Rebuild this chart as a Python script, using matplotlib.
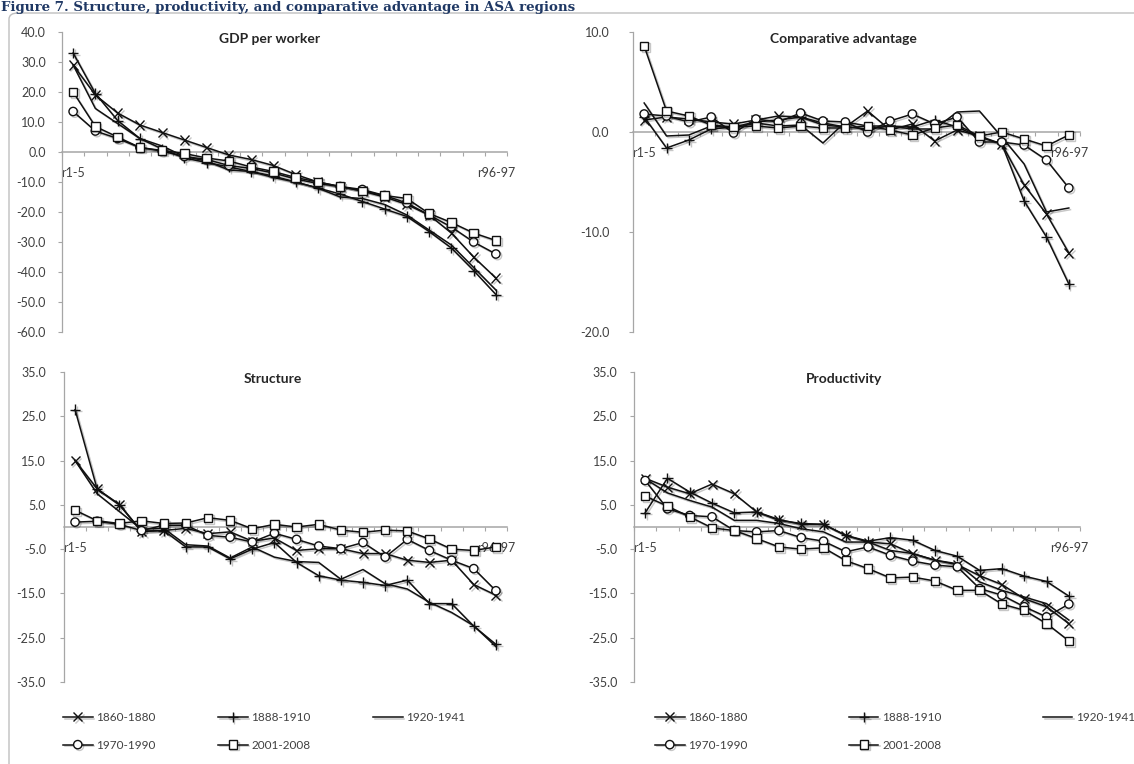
import matplotlib
matplotlib.use('Agg')
import numpy as np
import matplotlib.pyplot as plt
import matplotlib.patheffects as pe
from matplotlib.patches import FancyBboxPatch
from matplotlib.ticker import FixedLocator, NullFormatter

W, H = 1134, 764
plt.rcParams['font.family'] = ['Lato', 'DejaVu Sans']

# ---------------- data ----------------
x_labels = ['r1-5'] + [''] * 18 + ['r96-97']
periods = ['1860-1880', '1888-1910', '1920-1941', '1970-1990', '2001-2008']

gdp_1860 = [29.0, 19.0, 13.0, 9.0, 6.5, 4.0, 1.5, -1.0, -2.5, -4.5, -7.5, -10.0, -11.5, -13.0, -15.0, -17.5, -21.0, -27.0, -35.0, -42.0]
gdp_1888 = [33.0, 19.5, 10.5, 4.5, 1.0, -2.0, -3.5, -5.0, -6.5, -8.0, -10.0, -12.0, -14.0, -16.5, -19.0, -21.5, -26.5, -32.0, -39.5, -47.5]
gdp_1920 = [29.0, 14.5, 9.5, 4.5, 2.0, -1.5, -3.0, -6.0, -6.5, -8.5, -10.0, -12.0, -15.0, -15.5, -17.5, -21.0, -26.0, -31.0, -38.5, -46.0]
gdp_1970 = [13.5, 7.0, 4.5, 1.5, 0.3, -1.5, -2.5, -4.5, -5.5, -7.0, -9.0, -10.5, -11.5, -12.5, -14.5, -17.0, -21.0, -25.0, -30.0, -34.0]
gdp_2001 = [20.0, 8.5, 5.0, 1.5, 0.5, -0.5, -2.0, -3.0, -5.0, -6.5, -8.5, -10.0, -11.5, -13.0, -14.5, -15.5, -20.5, -23.5, -27.0, -29.5]

ca_1860 = [1.2, 1.5, 1.3, 1.0, 0.8, 1.2, 1.6, 1.5, 0.9, 0.5, 2.1, 0.2, 0.8, -0.9, 0.2, -0.4, -1.2, -5.3, -8.2, -12.1]
ca_1888 = [1.5, -1.6, -0.8, 0.3, 0.5, 1.0, 1.2, 1.5, 0.7, 0.5, 0.3, 0.6, 0.5, 1.2, 0.5, -0.5, -1.2, -6.9, -10.5, -15.2]
ca_1920 = [2.9, -0.4, -0.3, 0.6, 0.4, 0.9, 0.6, 0.7, -1.1, 1.0, 0.6, 0.6, 0.3, 0.3, 2.0, 2.1, -0.5, -3.2, -8.0, -7.6]
ca_1970 = [1.8, 1.6, 1.0, 1.5, -0.1, 1.3, 1.0, 1.9, 1.1, 1.0, 0.0, 1.1, 1.8, 0.8, 1.5, -1.0, -1.0, -1.3, -2.8, -5.6]
ca_2001 = [8.6, 2.1, 1.6, 0.7, 0.5, 0.6, 0.4, 0.6, 0.4, 0.4, 0.6, 0.2, -0.3, 0.4, 0.7, -0.4, 0.0, -0.7, -1.4, -0.3]

st_1860 = [15.0, 8.6, 5.1, -1.0, -0.8, -0.3, -1.5, -1.1, -3.2, -2.5, -5.3, -4.9, -4.9, -6.0, -6.0, -7.5, -8.0, -7.5, -13.0, -15.4]
st_1888 = [26.5, 8.5, 5.0, -1.0, -0.8, -4.5, -4.5, -7.2, -5.0, -3.5, -8.0, -11.0, -12.0, -12.5, -13.2, -12.0, -17.3, -17.3, -22.4, -26.5]
st_1920 = [15.0, 7.5, 3.5, -0.5, -0.3, -4.0, -4.3, -7.0, -4.5, -6.8, -7.8, -8.0, -11.8, -9.6, -12.8, -14.0, -17.0, -19.3, -22.3, -27.0]
st_1970 = [1.1, 1.3, 0.6, -0.8, 0.4, 0.4, -1.9, -2.3, -3.4, -1.4, -2.8, -4.3, -4.9, -3.5, -6.8, -2.8, -5.3, -7.5, -9.4, -14.4]
st_2001 = [3.8, 1.4, 0.8, 1.4, 0.8, 0.9, 2.1, 1.5, -0.4, 0.6, 0.0, 0.6, -0.7, -1.2, -0.7, -0.9, -2.7, -5.0, -5.3, -4.5]

pr_1860 = [11.0, 9.0, 7.5, 9.7, 7.5, 3.4, 1.7, 0.6, 0.6, -1.9, -3.4, -3.8, -6.0, -7.5, -8.5, -11.0, -13.0, -16.2, -18.0, -21.8]
pr_1888 = [3.2, 11.0, 7.9, 5.4, 3.2, 3.4, 1.5, 0.8, 0.6, -1.9, -3.2, -2.4, -3.0, -5.3, -6.6, -9.8, -9.4, -11.1, -12.3, -15.6]
pr_1920 = [10.9, 7.7, 6.0, 4.5, 1.5, 1.5, 0.8, -0.4, -1.1, -3.4, -3.4, -5.3, -6.0, -7.5, -8.3, -12.4, -14.3, -15.8, -17.3, -21.0]
pr_1970 = [10.5, 4.1, 2.6, 2.3, -0.8, -1.1, -0.8, -2.4, -3.2, -5.6, -4.5, -6.4, -7.7, -8.6, -9.0, -13.9, -15.4, -18.0, -20.3, -17.4]
pr_2001 = [7.0, 4.7, 2.3, -0.2, -0.8, -2.6, -4.5, -5.0, -4.7, -7.6, -9.4, -11.5, -11.3, -12.2, -14.3, -14.3, -17.4, -18.8, -21.8, -25.7]

yticks_gdp = [40, 30, 20, 10, 0, -10, -20, -30, -40, -50, -60]
yticks_ca = [10, 0, -10, -20]
yticks_sp = [35, 25, 15, 5, -5, -15, -25, -35]

fig_title = 'Figure 7. Structure, productivity, and comparative advantage in ASA regions'

# ---------------- styling ----------------
styles = {
    '1860-1880': dict(marker='x', ms=6.5, mew=1.0),
    '1888-1910': dict(marker='+', ms=7.5, mew=1.0),
    '1920-1941': dict(marker='None'),
    '1970-1990': dict(marker='o', ms=6.0, mfc='white', mew=1.0),
    '2001-2008': dict(marker='s', ms=6.0, mfc='white', mew=1.0),
}
LINE = '#111111'
AXC = '#A6A6A6'
TXT = '#404040'
shadow = [pe.SimpleLineShadow(offset=(1.2, -1.2), shadow_color='k', alpha=0.22), pe.Normal()]

fig = plt.figure(figsize=(W / 100, H / 100), dpi=100)

# outer chart border
border = FancyBboxPatch((9 / W, -0.05), 1.2, 1 - 13 / H + 0.05,
                        boxstyle='round,pad=0,rounding_size=0.008',
                        transform=fig.transFigure, fill=False,
                        ec='#BFBFBF', lw=1.0, clip_on=False)
fig.add_artist(border)

fig.text(1 / W, 1 - 10.5 / H, fig_title, family=['DejaVu Serif'], fontweight='bold',
         fontsize=9.6, color='#1F3864', va='baseline', ha='left')


def rect(l, t, r, b):
    return [l / W, 1 - b / H, (r - l) / W, (b - t) / H]


panels = [
    ('GDP per worker', [gdp_1860, gdp_1888, gdp_1920, gdp_1970, gdp_2001],
     rect(62, 32, 507, 332), yticks_gdp, 0.467, 8.5),
    ('Comparative advantage', [ca_1860, ca_1888, ca_1920, ca_1970, ca_2001],
     rect(633, 32, 1080, 332), yticks_ca, 0.47, 14),
    ('Structure', [st_1860, st_1888, st_1920, st_1970, st_2001],
     rect(64, 372, 507, 682), yticks_sp, 0.472, 10),
    ('Productivity', [pr_1860, pr_1888, pr_1920, pr_1970, pr_2001],
     rect(634, 372, 1080, 682), yticks_sp, 0.47, 9),
]

xs = np.arange(len(x_labels))
axes = []
for title, series, r, yt, tx, ypad in panels:
    ax = fig.add_axes(r)
    axes.append(ax)
    for name, vals in zip(periods, series):
        st = styles[name]
        ax.plot(xs, vals, color=LINE, lw=1.1, mec=LINE, label=name, zorder=3,
                path_effects=shadow, **st)
    ax.set_xlim(-0.5, len(x_labels) - 0.5)
    ax.set_ylim(min(yt), max(yt))
    ax.set_yticks(yt)
    ax.set_yticklabels([f'{v:.1f}' for v in yt])
    ax.xaxis.set_major_locator(FixedLocator(np.arange(-0.5, len(x_labels), 1.0)))
    ax.xaxis.set_major_formatter(NullFormatter())
    ax.xaxis.set_minor_locator(FixedLocator([0, len(x_labels) - 1]))
    ax.set_xticklabels([x_labels[0], x_labels[-1]], minor=True)
    ax.tick_params(axis='x', which='major', direction='out', length=3, width=0.8, color=AXC)
    ax.tick_params(axis='x', which='minor', length=0, pad=11, labelsize=9, labelcolor=TXT)
    ax.tick_params(axis='y', direction='out', length=3, width=0.8, color=AXC,
                   labelsize=9, labelcolor=TXT, pad=ypad)
    for s in ['top', 'right']:
        ax.spines[s].set_visible(False)
    ax.spines['left'].set_color(AXC)
    ax.spines['left'].set_linewidth(0.9)
    ax.spines['bottom'].set_position(('data', 0))
    ax.spines['bottom'].set_color(AXC)
    ax.spines['bottom'].set_linewidth(1.1)
    ax.set_facecolor('none')
    ax.text(tx, 1 - 7 / (r[3] * H), title, transform=ax.transAxes, ha='center', va='center',
            fontsize=10, fontweight='bold', color='#262626')

# legends under the bottom panels (row-wise order: 3 on first row, 2 on second)
order = [0, 3, 1, 4, 2]
for ax, x0, cs in [(axes[2], 63, 5.3), (axes[3], 655, 8.6)]:
    h, l = ax.get_legend_handles_labels()
    fig.legend([h[i] for i in order], [l[i] for i in order], ncol=3, loc='upper left',
               bbox_to_anchor=(x0 / W, 1 - 712 / H),
               frameon=False, fontsize=8.5, handlelength=2.5, handletextpad=0.3,
               columnspacing=cs, labelspacing=1.42, borderpad=0, borderaxespad=0,
               labelcolor=TXT)

fig.savefig('out.png', dpi=100)
